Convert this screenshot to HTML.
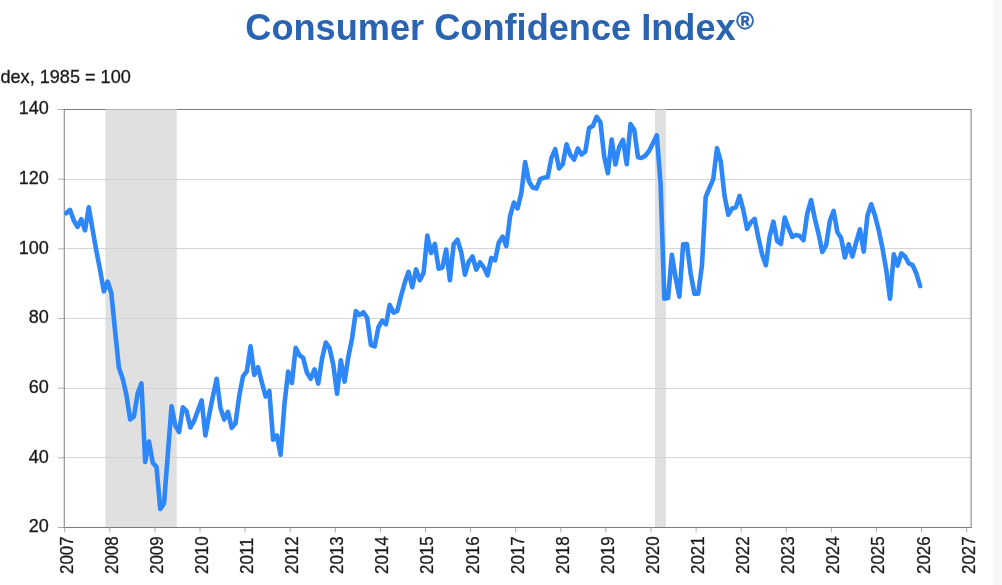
<!DOCTYPE html>
<html><head><meta charset="utf-8"><title>Consumer Confidence Index</title>
<style>
html,body{margin:0;padding:0;background:#fff;}
body{width:1002px;height:585px;overflow:hidden;position:relative;font-family:"Liberation Sans",Arial,sans-serif;}
#strip{position:absolute;left:993px;top:0;width:9px;height:585px;background:#f7f7f7;}
#title{position:absolute;left:245.3px;top:6.6px;font-size:36.18px;font-weight:bold;color:#2a63b0;white-space:nowrap;line-height:41px;}
#title sup{font-size:24px;line-height:0;vertical-align:baseline;position:relative;top:-10.9px;left:0.5px;-webkit-text-stroke:0.5px #2a63b0;}
#sub{position:absolute;left:-14.6px;top:66.9px;font-size:18.1px;color:#1a1a1a;white-space:nowrap;line-height:20px;-webkit-text-stroke:0.3px #1a1a1a;}
svg text{font-family:"Liberation Sans",Arial,sans-serif;}
</style></head><body>
<div id="strip"></div>
<div id="title">Consumer Confidence Index<sup>®</sup></div>
<div id="sub">Index, 1985 = 100</div>
<svg width="1002" height="585" viewBox="0 0 1002 585" style="position:absolute;left:0;top:0">
<rect x="105.4" y="109.5" width="71.35" height="418.00" fill="#e0e0e0"/>
<rect x="655.0" y="109.5" width="10.90" height="418.00" fill="#e0e0e0"/>
<line x1="64.3" x2="971.1" y1="179.50" y2="179.50" stroke="#d4d4d4" stroke-width="1"/>
<line x1="64.3" x2="971.1" y1="248.50" y2="248.50" stroke="#d4d4d4" stroke-width="1"/>
<line x1="64.3" x2="971.1" y1="318.50" y2="318.50" stroke="#d4d4d4" stroke-width="1"/>
<line x1="64.3" x2="971.1" y1="388.50" y2="388.50" stroke="#d4d4d4" stroke-width="1"/>
<line x1="64.3" x2="971.1" y1="457.50" y2="457.50" stroke="#d4d4d4" stroke-width="1"/>
<line x1="58.0" x2="64.3" y1="109.50" y2="109.50" stroke="#b0b0b0" stroke-width="1"/>
<text x="48.9" y="114.20" text-anchor="end" font-size="18" fill="#1a1a1a" stroke="#1a1a1a" stroke-width="0.3">140</text>
<line x1="58.0" x2="64.3" y1="179.17" y2="179.17" stroke="#b0b0b0" stroke-width="1"/>
<text x="48.9" y="183.87" text-anchor="end" font-size="18" fill="#1a1a1a" stroke="#1a1a1a" stroke-width="0.3">120</text>
<line x1="58.0" x2="64.3" y1="248.83" y2="248.83" stroke="#b0b0b0" stroke-width="1"/>
<text x="48.9" y="253.53" text-anchor="end" font-size="18" fill="#1a1a1a" stroke="#1a1a1a" stroke-width="0.3">100</text>
<line x1="58.0" x2="64.3" y1="318.50" y2="318.50" stroke="#b0b0b0" stroke-width="1"/>
<text x="48.9" y="323.20" text-anchor="end" font-size="18" fill="#1a1a1a" stroke="#1a1a1a" stroke-width="0.3">80</text>
<line x1="58.0" x2="64.3" y1="388.17" y2="388.17" stroke="#b0b0b0" stroke-width="1"/>
<text x="48.9" y="392.87" text-anchor="end" font-size="18" fill="#1a1a1a" stroke="#1a1a1a" stroke-width="0.3">60</text>
<line x1="58.0" x2="64.3" y1="457.83" y2="457.83" stroke="#b0b0b0" stroke-width="1"/>
<text x="48.9" y="462.53" text-anchor="end" font-size="18" fill="#1a1a1a" stroke="#1a1a1a" stroke-width="0.3">40</text>
<line x1="58.0" x2="64.3" y1="527.50" y2="527.50" stroke="#b0b0b0" stroke-width="1"/>
<text x="48.9" y="532.20" text-anchor="end" font-size="18" fill="#1a1a1a" stroke="#1a1a1a" stroke-width="0.3">20</text>
<path d="M64.25 109.0V528.0" fill="none" stroke="#7e7e7e" stroke-width="1"/><path d="M971.1 109.0V528.0" fill="none" stroke="#808080" stroke-width="1"/>
<path d="M63.5 109.5H971.6M63.5 527.5H971.6" fill="none" stroke="#7c7c7c" stroke-width="1"/>
<path d="M105.4 109.5H176.75M655 109.5H665.9" fill="none" stroke="#b2b2b2" stroke-width="1"/>
<line x1="64.70" x2="64.70" y1="527.5" y2="532.5" stroke="#b0b0b0" stroke-width="1"/>
<text transform="translate(72.60,574.0) rotate(-90) scale(0.94,1)" font-size="18" fill="#1a1a1a" stroke="#1a1a1a" stroke-width="0.3">2007</text>
<line x1="109.80" x2="109.80" y1="527.5" y2="532.5" stroke="#b0b0b0" stroke-width="1"/>
<text transform="translate(117.70,574.0) rotate(-90) scale(0.94,1)" font-size="18" fill="#1a1a1a" stroke="#1a1a1a" stroke-width="0.3">2008</text>
<line x1="154.90" x2="154.90" y1="527.5" y2="532.5" stroke="#b0b0b0" stroke-width="1"/>
<text transform="translate(162.80,574.0) rotate(-90) scale(0.94,1)" font-size="18" fill="#1a1a1a" stroke="#1a1a1a" stroke-width="0.3">2009</text>
<line x1="200.00" x2="200.00" y1="527.5" y2="532.5" stroke="#b0b0b0" stroke-width="1"/>
<text transform="translate(207.90,574.0) rotate(-90) scale(0.94,1)" font-size="18" fill="#1a1a1a" stroke="#1a1a1a" stroke-width="0.3">2010</text>
<line x1="245.10" x2="245.10" y1="527.5" y2="532.5" stroke="#b0b0b0" stroke-width="1"/>
<text transform="translate(253.00,574.0) rotate(-90) scale(0.94,1)" font-size="18" fill="#1a1a1a" stroke="#1a1a1a" stroke-width="0.3">2011</text>
<line x1="290.20" x2="290.20" y1="527.5" y2="532.5" stroke="#b0b0b0" stroke-width="1"/>
<text transform="translate(298.10,574.0) rotate(-90) scale(0.94,1)" font-size="18" fill="#1a1a1a" stroke="#1a1a1a" stroke-width="0.3">2012</text>
<line x1="335.30" x2="335.30" y1="527.5" y2="532.5" stroke="#b0b0b0" stroke-width="1"/>
<text transform="translate(343.20,574.0) rotate(-90) scale(0.94,1)" font-size="18" fill="#1a1a1a" stroke="#1a1a1a" stroke-width="0.3">2013</text>
<line x1="380.40" x2="380.40" y1="527.5" y2="532.5" stroke="#b0b0b0" stroke-width="1"/>
<text transform="translate(388.30,574.0) rotate(-90) scale(0.94,1)" font-size="18" fill="#1a1a1a" stroke="#1a1a1a" stroke-width="0.3">2014</text>
<line x1="425.50" x2="425.50" y1="527.5" y2="532.5" stroke="#b0b0b0" stroke-width="1"/>
<text transform="translate(433.40,574.0) rotate(-90) scale(0.94,1)" font-size="18" fill="#1a1a1a" stroke="#1a1a1a" stroke-width="0.3">2015</text>
<line x1="470.60" x2="470.60" y1="527.5" y2="532.5" stroke="#b0b0b0" stroke-width="1"/>
<text transform="translate(478.50,574.0) rotate(-90) scale(0.94,1)" font-size="18" fill="#1a1a1a" stroke="#1a1a1a" stroke-width="0.3">2016</text>
<line x1="515.70" x2="515.70" y1="527.5" y2="532.5" stroke="#b0b0b0" stroke-width="1"/>
<text transform="translate(523.60,574.0) rotate(-90) scale(0.94,1)" font-size="18" fill="#1a1a1a" stroke="#1a1a1a" stroke-width="0.3">2017</text>
<line x1="560.80" x2="560.80" y1="527.5" y2="532.5" stroke="#b0b0b0" stroke-width="1"/>
<text transform="translate(568.70,574.0) rotate(-90) scale(0.94,1)" font-size="18" fill="#1a1a1a" stroke="#1a1a1a" stroke-width="0.3">2018</text>
<line x1="605.90" x2="605.90" y1="527.5" y2="532.5" stroke="#b0b0b0" stroke-width="1"/>
<text transform="translate(613.80,574.0) rotate(-90) scale(0.94,1)" font-size="18" fill="#1a1a1a" stroke="#1a1a1a" stroke-width="0.3">2019</text>
<line x1="651.00" x2="651.00" y1="527.5" y2="532.5" stroke="#b0b0b0" stroke-width="1"/>
<text transform="translate(658.90,574.0) rotate(-90) scale(0.94,1)" font-size="18" fill="#1a1a1a" stroke="#1a1a1a" stroke-width="0.3">2020</text>
<line x1="696.10" x2="696.10" y1="527.5" y2="532.5" stroke="#b0b0b0" stroke-width="1"/>
<text transform="translate(704.00,574.0) rotate(-90) scale(0.94,1)" font-size="18" fill="#1a1a1a" stroke="#1a1a1a" stroke-width="0.3">2021</text>
<line x1="741.20" x2="741.20" y1="527.5" y2="532.5" stroke="#b0b0b0" stroke-width="1"/>
<text transform="translate(749.10,574.0) rotate(-90) scale(0.94,1)" font-size="18" fill="#1a1a1a" stroke="#1a1a1a" stroke-width="0.3">2022</text>
<line x1="786.30" x2="786.30" y1="527.5" y2="532.5" stroke="#b0b0b0" stroke-width="1"/>
<text transform="translate(794.20,574.0) rotate(-90) scale(0.94,1)" font-size="18" fill="#1a1a1a" stroke="#1a1a1a" stroke-width="0.3">2023</text>
<line x1="831.40" x2="831.40" y1="527.5" y2="532.5" stroke="#b0b0b0" stroke-width="1"/>
<text transform="translate(839.30,574.0) rotate(-90) scale(0.94,1)" font-size="18" fill="#1a1a1a" stroke="#1a1a1a" stroke-width="0.3">2024</text>
<line x1="876.50" x2="876.50" y1="527.5" y2="532.5" stroke="#b0b0b0" stroke-width="1"/>
<text transform="translate(884.40,574.0) rotate(-90) scale(0.94,1)" font-size="18" fill="#1a1a1a" stroke="#1a1a1a" stroke-width="0.3">2025</text>
<line x1="921.60" x2="921.60" y1="527.5" y2="532.5" stroke="#b0b0b0" stroke-width="1"/>
<text transform="translate(929.50,574.0) rotate(-90) scale(0.94,1)" font-size="18" fill="#1a1a1a" stroke="#1a1a1a" stroke-width="0.3">2026</text>
<line x1="966.70" x2="966.70" y1="527.5" y2="532.5" stroke="#b0b0b0" stroke-width="1"/>
<text transform="translate(974.60,574.0) rotate(-90) scale(0.94,1)" font-size="18" fill="#1a1a1a" stroke="#1a1a1a" stroke-width="0.3">2027</text>
<polyline points="66.20,213.30 69.96,209.82 73.72,220.27 77.49,226.89 81.25,219.22 85.01,230.37 88.77,207.38 92.53,229.33 96.29,250.57 100.06,269.73 103.82,291.33 107.58,281.58 111.34,293.07 115.10,331.04 118.87,367.62 122.63,378.41 126.39,394.79 130.15,419.52 133.91,416.38 137.67,393.39 141.44,383.29 145.20,462.01 148.96,441.46 152.72,462.71 156.48,466.89 160.25,509.04 164.01,503.46 167.77,455.05 171.53,406.28 175.29,425.44 179.05,432.06 182.82,407.32 186.58,411.16 190.34,427.53 194.10,420.91 197.86,410.46 201.62,400.36 205.39,435.54 209.15,414.99 212.91,396.18 216.67,378.76 220.43,408.02 224.20,419.52 227.96,411.85 231.72,427.88 235.48,423.35 239.24,395.83 243.00,376.32 246.77,371.45 250.53,346.37 254.29,374.93 258.05,367.27 261.81,382.25 265.58,396.53 269.34,390.95 273.10,439.72 276.86,435.54 280.62,454.70 284.38,404.89 288.15,371.45 291.91,382.94 295.67,347.76 299.43,355.07 303.19,357.86 306.96,372.84 310.72,378.76 314.48,369.36 318.24,383.64 322.00,358.91 325.76,342.53 329.53,348.11 333.29,364.83 337.05,393.74 340.81,360.30 344.57,381.55 348.33,356.82 352.10,338.36 355.86,311.19 359.62,315.02 363.38,312.23 367.14,317.80 370.91,344.97 374.67,346.37 378.43,327.21 382.19,320.59 385.95,324.42 389.71,304.91 393.48,312.58 397.24,310.84 401.00,296.21 404.76,282.62 408.52,271.82 412.29,287.15 416.05,269.38 419.81,280.18 423.57,272.87 427.33,235.60 431.09,253.01 434.86,243.96 438.62,268.69 442.38,267.64 446.14,249.53 449.90,280.18 453.67,244.31 457.43,239.78 461.19,251.97 464.95,274.61 468.71,261.72 472.47,256.50 476.24,269.73 480.00,262.42 483.76,267.29 487.52,275.31 491.28,257.89 495.05,260.33 498.81,242.56 502.57,236.64 506.33,246.05 510.09,216.09 513.85,202.50 517.62,208.43 521.38,192.75 525.14,162.10 528.90,181.26 532.66,187.53 536.43,188.57 540.19,179.17 543.95,177.77 547.71,177.08 551.47,157.57 555.23,149.21 559.00,168.37 562.76,164.19 566.52,144.33 570.28,154.78 574.04,159.66 577.80,148.51 581.57,154.44 585.33,151.65 589.09,127.96 592.85,125.87 596.61,116.81 600.38,122.04 604.14,156.18 607.90,173.25 611.66,139.46 615.42,164.54 619.18,147.12 622.95,139.80 626.71,164.19 630.47,124.13 634.23,129.70 637.99,157.22 641.76,157.92 645.52,155.48 649.28,150.60 653.04,142.94 656.80,135.28 660.56,183.35 664.33,298.64 668.09,297.95 671.85,254.76 675.61,277.75 679.37,296.56 683.14,244.31 686.90,243.96 690.66,273.56 694.42,293.77 698.18,293.77 701.94,265.55 705.71,196.93 709.47,187.88 713.23,179.17 716.99,148.16 720.75,161.40 724.52,195.89 728.28,214.70 732.04,208.43 735.80,207.38 739.56,195.89 743.32,210.17 747.09,228.98 750.85,222.36 754.61,218.88 758.37,237.69 762.13,254.41 765.89,265.21 769.66,236.29 773.42,221.66 777.18,241.17 780.94,243.96 784.70,217.48 788.47,227.93 792.23,236.99 795.99,234.90 799.75,235.94 803.51,240.12 807.27,213.65 811.04,200.07 814.80,218.53 818.56,233.86 822.32,251.97 826.08,245.35 829.85,220.97 833.61,210.86 837.37,232.11 841.13,238.04 844.89,257.54 848.65,244.31 852.42,256.50 856.18,242.21 859.94,229.33 863.70,251.62 867.46,215.39 871.23,204.25 874.99,215.74 878.75,230.37 882.51,248.49 886.27,270.08 890.03,298.64 893.80,254.41 897.56,265.55 901.32,253.36 905.08,256.50 908.84,263.46 912.61,265.21 916.37,273.56 920.13,286.11" fill="none" stroke="#2d87f8" stroke-width="4.6" stroke-linejoin="round" stroke-linecap="round"/>
</svg>
</body></html>
